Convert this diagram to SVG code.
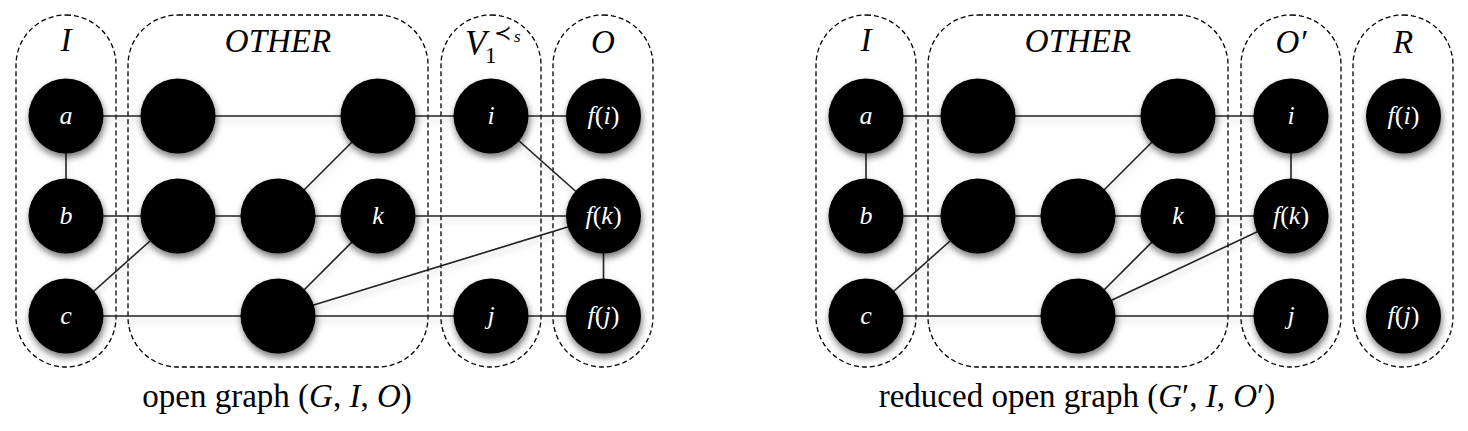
<svg xmlns="http://www.w3.org/2000/svg" width="1468" height="431" viewBox="0 0 1468 431">
<defs>
<filter id="sh" x="-40%" y="-40%" width="180%" height="190%">
<feDropShadow dx="1" dy="4" stdDeviation="3.5" flood-color="#000" flood-opacity="0.55"/>
</filter>
<filter id="lsh" x="-10%" y="-50%" width="120%" height="200%">
<feDropShadow dx="0" dy="4" stdDeviation="3" flood-color="#000" flood-opacity="0.22"/>
</filter>
<style>
.box{fill:none;stroke:#000;stroke-width:1.3;stroke-dasharray:5 3}
.n{fill:#000;filter:url(#sh)}
.e line{stroke:#222;stroke-width:1.6}
.nl{fill:#fff;font-family:"Liberation Serif",serif;font-size:26px;font-style:italic;text-anchor:middle}
.up{font-style:normal}
.gl{fill:#000;font-family:"Liberation Serif",serif;font-size:33px;font-style:italic;text-anchor:middle}
.cap{fill:#000;font-family:"Liberation Serif",serif;font-size:33px;text-anchor:middle}
.it{font-style:italic}
</style>
</defs>
<rect width="1468" height="431" fill="#fff"/>

<!-- LEFT DIAGRAM -->
<g id="left-groups">
<g id="L-box-I"><rect class="box" x="16" y="15" width="100" height="352" rx="50"/><text class="gl" x="66" y="51">I</text></g>
<g id="L-box-OTHER"><rect class="box" x="128" y="15" width="300" height="352" rx="50"/><text class="gl" x="278" y="52">OTHER</text></g>
<g id="L-box-V1"><rect class="box" x="441" y="15" width="100" height="352" rx="50"/>
<text fill="#000" font-family="Liberation Serif,serif" font-size="35" font-style="italic" x="465" y="55">V</text>
<text fill="#000" font-family="Liberation Serif,serif" font-size="23" x="485" y="63">1</text>
<text fill="#000" font-family="DejaVu Serif,serif" font-size="21" x="494" y="40">≺</text>
<text fill="#000" font-family="Liberation Serif,serif" font-size="17" font-style="italic" x="514" y="42">s</text>
</g>
<g id="L-box-O"><rect class="box" x="553" y="15" width="100" height="352" rx="50"/><text class="gl" x="603" y="53">O</text></g>
</g>

<g id="left-edges" class="e" filter="url(#lsh)">
<line x1="66" y1="116" x2="178" y2="116"/>
<line x1="178" y1="116" x2="378" y2="116"/>
<line x1="378" y1="116" x2="491" y2="116"/>
<line x1="491" y1="116" x2="603.5" y2="116"/>
<line x1="66" y1="116" x2="66" y2="216"/>
<line x1="66" y1="216" x2="178" y2="216"/>
<line x1="178" y1="216" x2="278" y2="216"/>
<line x1="278" y1="216" x2="378" y2="216"/>
<line x1="378" y1="216" x2="603.5" y2="216"/>
<line x1="278" y1="216" x2="378" y2="116"/>
<line x1="66" y1="316" x2="178" y2="216"/>
<line x1="66" y1="316" x2="278" y2="316"/>
<line x1="278" y1="316" x2="491" y2="316"/>
<line x1="491" y1="316" x2="603.5" y2="316"/>
<line x1="278" y1="316" x2="378" y2="216"/>
<line x1="278" y1="316" x2="603.5" y2="216"/>
<line x1="491" y1="116" x2="603.5" y2="216"/>
<line x1="603.5" y1="216" x2="603.5" y2="316"/>
</g>

<g id="L-a"><circle class="n" cx="66" cy="116" r="37.5"/><text class="nl" x="66" y="124">a</text></g>
<g id="L-b"><circle class="n" cx="66" cy="216" r="37.5"/><text class="nl" x="66" y="224">b</text></g>
<g id="L-c"><circle class="n" cx="66" cy="316" r="37.5"/><text class="nl" x="66" y="324">c</text></g>
<g id="L-o1"><circle class="n" cx="178" cy="116" r="37.5"/></g>
<g id="L-o2"><circle class="n" cx="378" cy="116" r="37.5"/></g>
<g id="L-o3"><circle class="n" cx="178" cy="216" r="37.5"/></g>
<g id="L-o4"><circle class="n" cx="278" cy="216" r="37.5"/></g>
<g id="L-k"><circle class="n" cx="378" cy="216" r="37.5"/><text class="nl" x="378" y="224">k</text></g>
<g id="L-o5"><circle class="n" cx="278" cy="316" r="37.5"/></g>
<g id="L-i"><circle class="n" cx="491" cy="116" r="37.5"/><text class="nl" x="491" y="124">i</text></g>
<g id="L-j"><circle class="n" cx="491" cy="316" r="37.5"/><text class="nl" x="491" y="324">j</text></g>
<g id="L-fi"><circle class="n" cx="603.5" cy="116" r="37.5"/><text class="nl" x="603.5" y="124">f<tspan class="up">(</tspan>i<tspan class="up">)</tspan></text></g>
<g id="L-fk"><circle class="n" cx="603.5" cy="216" r="37.5"/><text class="nl" x="603.5" y="224">f<tspan class="up">(</tspan>k<tspan class="up">)</tspan></text></g>
<g id="L-fj"><circle class="n" cx="603.5" cy="316" r="37.5"/><text class="nl" x="603.5" y="324">f<tspan class="up">(</tspan>j<tspan class="up">)</tspan></text></g>

<text class="cap" x="277" y="407">open graph (<tspan class="it">G</tspan>, <tspan class="it">I</tspan>, <tspan class="it">O</tspan>)</text>

<!-- RIGHT DIAGRAM -->
<g id="right-groups">
<g id="R-box-I"><rect class="box" x="816" y="15" width="100" height="352" rx="50"/><text class="gl" x="866" y="51">I</text></g>
<g id="R-box-OTHER"><rect class="box" x="928" y="15" width="300" height="352" rx="50"/><text class="gl" x="1078" y="52">OTHER</text></g>
<g id="R-box-O2"><rect class="box" x="1241" y="15" width="100" height="352" rx="50"/><text class="gl" x="1291" y="53">O′</text></g>
<g id="R-box-R"><rect class="box" x="1353" y="15" width="100" height="352" rx="50"/><text class="gl" x="1403" y="53">R</text></g>
</g>

<g id="right-edges" class="e" filter="url(#lsh)">
<line x1="866" y1="116" x2="978" y2="116"/>
<line x1="978" y1="116" x2="1178" y2="116"/>
<line x1="1178" y1="116" x2="1291" y2="116"/>
<line x1="866" y1="116" x2="866" y2="216"/>
<line x1="1291" y1="116" x2="1291" y2="216"/>
<line x1="866" y1="216" x2="978" y2="216"/>
<line x1="978" y1="216" x2="1078" y2="216"/>
<line x1="1078" y1="216" x2="1178" y2="216"/>
<line x1="1178" y1="216" x2="1291" y2="216"/>
<line x1="1078" y1="216" x2="1178" y2="116"/>
<line x1="866" y1="316" x2="978" y2="216"/>
<line x1="866" y1="316" x2="1078" y2="316"/>
<line x1="1078" y1="316" x2="1291" y2="316"/>
<line x1="1078" y1="316" x2="1178" y2="216"/>
<line x1="1078" y1="316" x2="1291" y2="216"/>
</g>

<g id="R-a"><circle class="n" cx="866" cy="116" r="37.5"/><text class="nl" x="866" y="124">a</text></g>
<g id="R-b"><circle class="n" cx="866" cy="216" r="37.5"/><text class="nl" x="866" y="224">b</text></g>
<g id="R-c"><circle class="n" cx="866" cy="316" r="37.5"/><text class="nl" x="866" y="324">c</text></g>
<g id="R-o1"><circle class="n" cx="978" cy="116" r="37.5"/></g>
<g id="R-o2"><circle class="n" cx="1178" cy="116" r="37.5"/></g>
<g id="R-o3"><circle class="n" cx="978" cy="216" r="37.5"/></g>
<g id="R-o4"><circle class="n" cx="1078" cy="216" r="37.5"/></g>
<g id="R-k"><circle class="n" cx="1178" cy="216" r="37.5"/><text class="nl" x="1178" y="224">k</text></g>
<g id="R-o5"><circle class="n" cx="1078" cy="316" r="37.5"/></g>
<g id="R-i"><circle class="n" cx="1291" cy="116" r="37.5"/><text class="nl" x="1291" y="124">i</text></g>
<g id="R-fk"><circle class="n" cx="1291" cy="216" r="37.5"/><text class="nl" x="1291" y="224">f<tspan class="up">(</tspan>k<tspan class="up">)</tspan></text></g>
<g id="R-j"><circle class="n" cx="1291" cy="316" r="37.5"/><text class="nl" x="1291" y="324">j</text></g>
<g id="R-fi"><circle class="n" cx="1403.5" cy="116" r="37.5"/><text class="nl" x="1403.5" y="124">f<tspan class="up">(</tspan>i<tspan class="up">)</tspan></text></g>
<g id="R-fj"><circle class="n" cx="1403.5" cy="316" r="37.5"/><text class="nl" x="1403.5" y="324">f<tspan class="up">(</tspan>j<tspan class="up">)</tspan></text></g>

<text class="cap" x="1077" y="407">reduced open graph (<tspan class="it">G</tspan>′, <tspan class="it">I</tspan>, <tspan class="it">O</tspan>′)</text>
</svg>
